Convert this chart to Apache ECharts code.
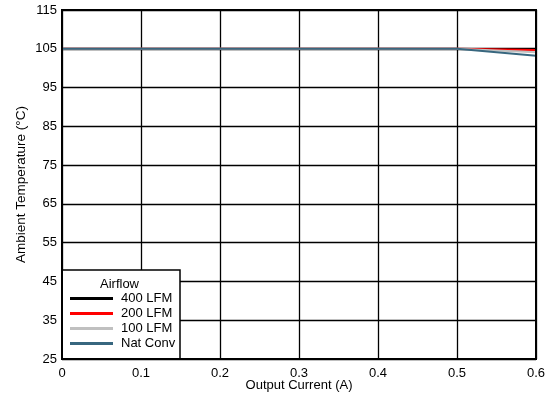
<!DOCTYPE html>
<html><head><meta charset="utf-8">
<script src="https://cdn.jsdelivr.net/npm/echarts@6/dist/echarts.min.js"></script>
<style>html,body{margin:0;padding:0;background:#fff}#c{width:550px;height:396px}</style>
</head><body><div id="c"></div>
<script>
const xValues = [0, 0.5, 0.6];
const seriesNames = ['400 LFM', '200 LFM', '100 LFM', 'Nat Conv'];
const lfm400 = [105, 105, 105];
const lfm200 = [105, 105, 104.7];
const lfm100 = [105, 105, 104.1];
const natConv = [105, 105, 103.2];
const colors = ['#000000', '#ff0000', '#c0c0c0', '#38677f'];
const allData = [lfm400, lfm200, lfm100, natConv];

const font = 'Liberation Sans, Arial, sans-serif';
const chart = echarts.init(document.getElementById('c'));
chart.setOption({
  animation: false,
  grid: {left: 62, right: 14, top: 10, bottom: 37, containLabel: false, outerBoundsMode: 'none'},
  xAxis: {
    type: 'value', min: 0, max: 0.6, interval: 0.1,
    name: 'Output Current (A)', nameLocation: 'middle', nameGap: 20, nameMoveOverlap: false,
    nameTextStyle: {fontFamily: font, fontSize: 13, color: '#000'},
    axisLine: {show: true, lineStyle: {color: '#000', width: 2}},
    axisTick: {show: false},
    axisLabel: {fontFamily: font, fontSize: 13, color: '#000', margin: 8,
      formatter: v => Number(v.toFixed(1)).toString()},
    splitLine: {show: true, lineStyle: {color: '#000', width: 1.3}}
  },
  yAxis: {
    type: 'value', min: 25, max: 115, interval: 10,
    name: 'Ambient Temperature (°C)', nameLocation: 'middle', nameGap: 34, nameMoveOverlap: false,
    nameTextStyle: {fontFamily: font, fontSize: 13.5, color: '#000'},
    axisLine: {show: true, lineStyle: {color: '#000', width: 2}},
    axisTick: {show: false},
    axisLabel: {fontFamily: font, fontSize: 13, color: '#000', margin: 5},
    splitLine: {show: true, lineStyle: {color: '#000', width: 1.3}}
  },
  legend: {
    orient: 'vertical', left: 66, top: 291, z: 100,
    icon: 'rect', itemWidth: 43, itemHeight: 3, itemGap: 0,
    padding: [0, 4, 0, 4],
    textStyle: {fontFamily: font, fontSize: 13, color: '#000', lineHeight: 15, padding: [0, 0, 0, 3]},
    data: seriesNames
  },
  graphic: [
    {type: 'rect', z: 50, shape: {x: 62, y: 270, width: 118, height: 89},
     style: {fill: '#fff', stroke: '#000', lineWidth: 1.5}},
    {type: 'text', z: 51, left: 100, top: 278,
     style: {text: 'Airflow', font: '13px ' + font, fill: '#000'}},
    {type: 'rect', z: 60, shape: {x: 62, y: 10, width: 474, height: 349},
     style: {fill: 'none', stroke: '#000', lineWidth: 2}}
  ],
  series: allData.map((d, i) => ({
    name: seriesNames[i], type: 'line', showSymbol: false,
    data: d.map((v, j) => [xValues[j], v]),
    lineStyle: {color: colors[i], width: 2}, itemStyle: {color: colors[i]}, z: 2 + i
  }))
});
</script></body></html>
